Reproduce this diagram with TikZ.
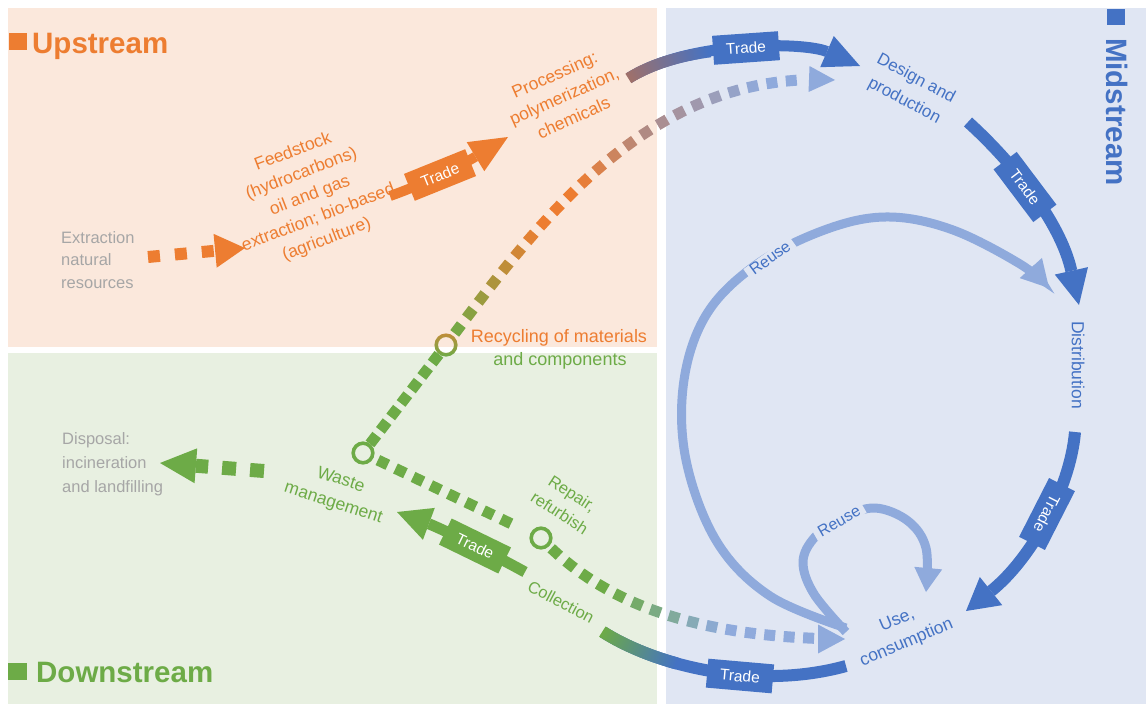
\documentclass[tikz,border=0pt]{standalone}
\usepackage{fontspec}
\setmainfont{Liberation Sans}
\usetikzlibrary{arrows.meta,decorations.markings}
\definecolor{upbg}{HTML}{FBE8DC}
\definecolor{downbg}{HTML}{E8F0E1}
\definecolor{midbg}{HTML}{E0E6F3}
\definecolor{cor}{HTML}{ED7D31}
\definecolor{cgr}{HTML}{6DAB47}
\definecolor{cbl}{HTML}{4472C4}
\definecolor{clb}{HTML}{8FAADC}
\definecolor{cgy}{HTML}{A6A6A6}
\definecolor{cmv}{HTML}{AE8A86}
\definecolor{cbr}{HTML}{A0706A}
\newcommand\gcfrac{\pgfmathsetmacro\gfr{\pgfkeysvalueof{/pgf/decoration/mark info/distance from start}/\pgfdecoratedpathlength}}
\newcommand\gcmix[4]{\ifdim\gfr pt<#3pt\relax\else\pgfmathsetmacro\gpc{min(100,100*(\gfr-#3)/(#4-#3))}\colorlet{gc}{#2!\gpc!#1}\fi}
\tikzset{
 lbl/.style={align=center, inner sep=0pt, font=\fontsize{17.5}{24}\selectfont},
 gry/.style={align=left, inner sep=0pt, anchor=west, text=cgy, font=\fontsize{16.5}{22.5}\selectfont},
 tradebox/.style={fill=#1, text=white, minimum width=66pt, minimum height=29pt, inner sep=0pt, font=\fontsize{15.5}{18}\selectfont},
 reuselbl/.style={fill=midbg, text=cbl, inner xsep=5pt, inner ysep=1pt, font=\fontsize{16}{19}\selectfont},
 ringg/.style={draw=cgr, line width=3.6pt},
 ttl/.style={inner sep=0pt, anchor=base west, font=\fontsize{29.5}{31}\selectfont\bfseries},
}
\begin{document}
\begin{tikzpicture}[x=1pt,y=-1pt]
\useasboundingbox (0,0) rectangle (1146,704);
\fill[white] (0,0) rectangle (1146,704);
\fill[upbg] (8,8) rectangle (657,347);
\fill[downbg] (8,353) rectangle (657,704);
\fill[midbg] (666,8) rectangle (1146,704);

% titles
\fill[cor] (9,33) rectangle (27,50);
\node[ttl, text=cor] (tup) at (32,53) {Upstream};
\fill[cgr] (8,663) rectangle (27,680);
\node[ttl, text=cgr] (tdown) at (36,682) {Downstream};
\fill[cbl] (1107,9) rectangle (1125,25);
\node[ttl, text=cbl, rotate=-90] (tmid) at (1106,38) {Midstream};

% named points
\coordinate (ex1) at (148,257); \coordinate (fs0) at (245,248);
\coordinate (tr1a) at (390,196); \coordinate (proc0) at (508,137);
\coordinate (tr2a) at (629,78); \coordinate (des0) at (860,66);
\coordinate (tr3a) at (968,122); \coordinate (dis0) at (1079,305);
\coordinate (tr4a) at (1075,432); \coordinate (use0) at (966,611);
\coordinate (col0) at (525,572); \coordinate (wm0) at (397,512);
\coordinate (col1) at (603,632); \coordinate (use1) at (846,666);
\coordinate (wdisp) at (264,471); \coordinate (disp0) at (160,463);
\coordinate (wmc) at (363,453); \coordinate (recc) at (446,345); \coordinate (repc) at (541,538);
\coordinate (desd0) at (809,79); \coordinate (desd) at (835,80);
\coordinate (used0) at (818,639); \coordinate (used) at (845,639);
\coordinate (useb) at (846,628); \coordinate (dis1) at (1049,288);
\coordinate (usec) at (846,632); \coordinate (use2) at (926,592);

% text labels
\node[gry] (ext) at (61,260) {Extraction\\natural\\resources};
\node[gry, font=\fontsize{16.5}{24}\selectfont] (dsp) at (62,464) {Disposal:\\incineration\\and landfilling};
\node[lbl, text=cor, rotate=21, font=\fontsize{17.5}{23.5}\selectfont] (feed) at (310,196) {Feedstock\\(hydrocarbons)\\oil and gas\\extraction; bio-based\\(agriculture)};
\node[lbl, text=cor, rotate=24, font=\fontsize{17.5}{23.5}\selectfont] (proc) at (564,96) {Processing:\\polymerization,\\chemicals};
\node[lbl, text=cor, font=\fontsize{18}{22}\selectfont] (rec1) at (559,338) {Recycling of materials};
\node[lbl, text=cgr, font=\fontsize{18}{22}\selectfont] (rec2) at (560,361) {and components};
\node[lbl, text=cgr, rotate=-18] (wm) at (337,492) {Waste\\management};
\node[lbl, text=cgr, rotate=-33, font=\fontsize{16.5}{23}\selectfont] (rep) at (566,503) {Repair,\\refurbish};
\node[lbl, text=cgr, rotate=-28, font=\fontsize{16.5}{20}\selectfont] (col) at (561,602) {Collection};
\node[lbl, text=cbl, rotate=-28, font=\fontsize{17}{25}\selectfont] (des) at (910,90) {Design and\\production};
\node[lbl, text=cbl, rotate=-90] (dis) at (1078,365) {Distribution};
\node[lbl, text=cbl, rotate=23] (use) at (902,632) {Use,\\consumption};

% dotted flows
\path[decorate, decoration={markings, mark=between positions 17pt and -17pt step 17pt with {\fill[cgr] (-5.5,-5.5) rectangle (5.5,5.5);}}] (wmc) -- (recc);
\path[decorate, decoration={markings, mark=between positions 22pt and -20pt step 19.5pt with {\fill[cgr] (-5.5,-5.5) rectangle (5.5,5.5);}}] (wmc) -- (repc);
\path[decorate, decoration={markings, mark=between positions 20pt and -34pt step 19.5pt with {\gcfrac\colorlet{gc}{cgr}\gcmix{cgr}{cor}{0.02}{0.3}\gcmix{cor}{cmv}{0.42}{0.6}\gcmix{cmv}{clb}{0.6}{0.85}\fill[gc] (-5.5,-5.5) rectangle (5.5,5.5);}}] (recc) .. controls (540,220) and (650,70) .. (desd);
\draw[clb, line width=0.1pt, -{Triangle[width=26pt,length=26pt,line width=0pt]}] (desd0) -- (desd);
\path[decorate, decoration={markings, mark=between positions 20pt and -36pt step 19.5pt with {\gcfrac\colorlet{gc}{cgr}\gcmix{cgr}{clb}{0.28}{0.62}\fill[gc] (-5.5,-5.5) rectangle (5.5,5.5);}}] (repc) .. controls (595,595) and (680,638) .. (used);
\draw[clb, line width=0.1pt, -{Triangle[width=29pt,length=27pt,line width=0pt]}] (used0) -- (used);
\draw[cor, line width=12pt, dash pattern=on 12pt off 15pt, -{Triangle[width=34pt,length=30pt,line width=0pt]}] (ex1) -- (fs0);
\draw[cgr, line width=14pt, dash pattern=on 14pt off 14pt, -{Triangle[width=35pt,length=36pt,line width=0pt]}] (wdisp) -- (disp0);

% rings
\draw[ringg] (wmc) circle[radius=9.8pt];
\draw[ringg] (repc) circle[radius=9.8pt];
\shade[top color=cor!65!cgr, bottom color=cgr, even odd rule] (recc) circle[radius=11.6pt] (recc) circle[radius=8pt];

% reuse arcs
\draw[clb, line width=9pt, -{Triangle[width=30pt,length=27pt,line width=0pt]}] plot[smooth, tension=0.6] coordinates {(useb) (770,596) (717,542) (686,460) (684,380) (708,312) (760,262) (830,228) (890,217) (953,230) (1020,264) (dis1)};
\draw[clb, line width=9pt, -{Triangle[width=28pt,length=24pt,line width=0pt]}] plot[smooth, tension=0.6] coordinates {(usec) (814,594) (803,562) (815,537) (842,518) (875,508) (908,521) (926,548) (use2)};
\node[reuselbl, rotate=36] (ru1) at (770,258) {Reuse};
\node[reuselbl, rotate=30] (ru2) at (839,521) {Reuse};

% trade flows
\draw[cor, line width=10pt, -{Triangle[width=34pt,length=38pt,line width=0pt]}] (tr1a) .. controls (435,180) and (470,160) .. (proc0);
\draw[cbl, line width=11pt, -{Triangle[width=34pt,length=36pt,line width=0pt]}, postaction={decorate, decoration={markings, mark=between positions 0 and 0.36 step 1pt with {\gcfrac\colorlet{gc}{cbr}\gcmix{cbr}{cbl}{0}{0.36}\fill[gc] (-0.8,-5.5) rectangle (0.8,5.5);}}}] (tr2a) .. controls (690,40) and (805,42) .. (des0);
\draw[cbl, line width=12pt, -{Triangle[width=34pt,length=35pt,line width=0pt]}] (tr3a) .. controls (1010,160) and (1060,220) .. (dis0);
\draw[cbl, line width=12pt, -{Triangle[width=36pt,length=32pt,line width=0pt]}] (tr4a) .. controls (1070,490) and (1030,560) .. (use0);
\draw[cgr, line width=11pt, -{Triangle[width=34pt,length=34pt,line width=0pt]}] (col0) .. controls (485,550) and (440,528) .. (wm0);
\draw[cbl, line width=12pt, postaction={decorate, decoration={markings, mark=between positions 0 and 0.32 step 1pt with {\gcfrac\colorlet{gc}{cgr}\gcmix{cgr}{cbl}{0}{0.32}\fill[gc] (-0.8,-6) rectangle (0.8,6);}}}] (col1) .. controls (660,668) and (760,690) .. (use1);

\node[tradebox=cor, rotate=22] (tr1) at (440,175) {Trade};
\node[tradebox=cbl, rotate=4] (tr2) at (746,48) {Trade};
\node[tradebox=cbl, rotate=-53] (tr3) at (1025,187) {Trade};
\node[tradebox=cbl, rotate=-117] (tr4) at (1047,514) {Trade};
\node[tradebox=cgr, rotate=-26] (tr5) at (475,546) {Trade};
\node[tradebox=cbl, rotate=-5] (tr6) at (740,676) {Trade};
\end{tikzpicture}
\end{document}
